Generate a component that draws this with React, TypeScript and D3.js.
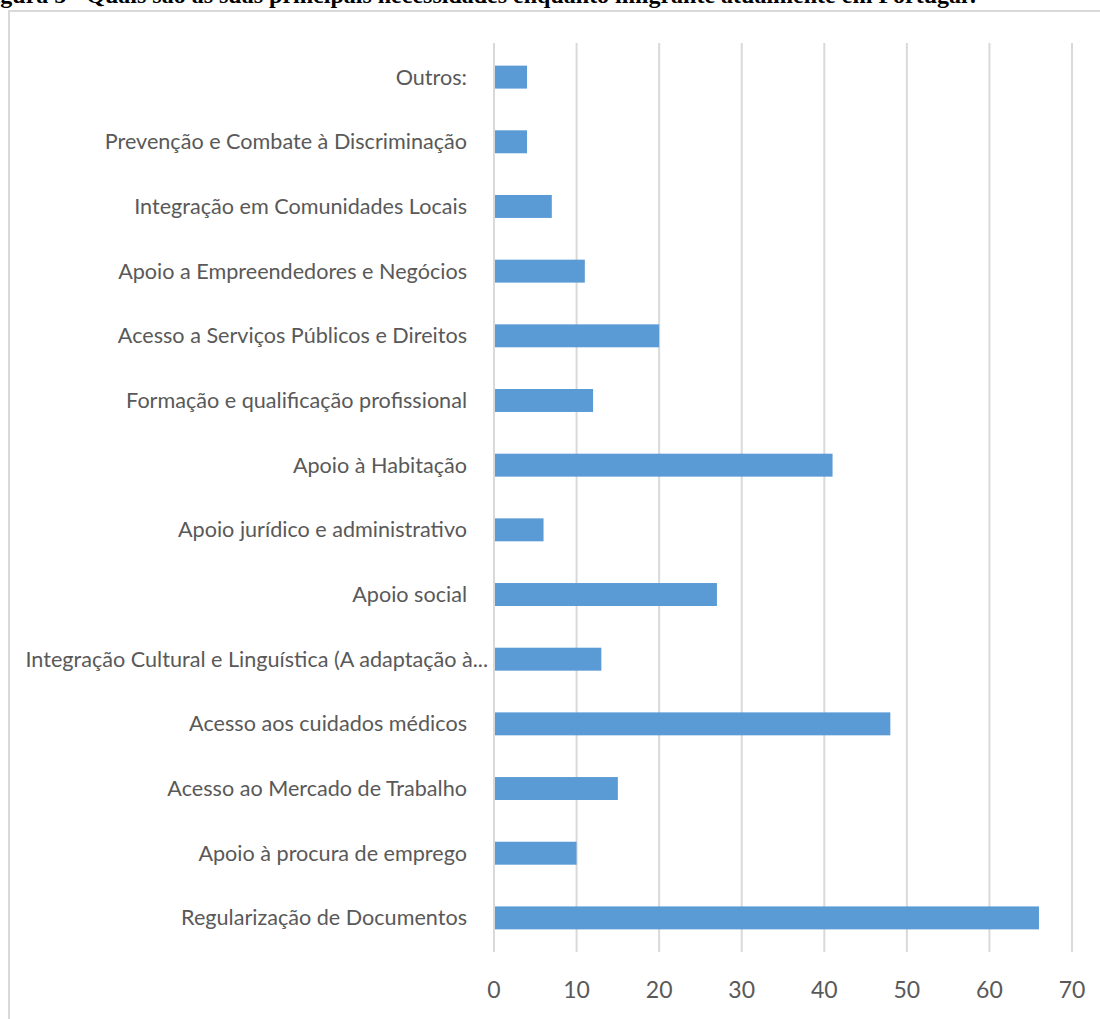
import * as d3 from 'd3';

const categories = [
  'Outros:',
  'Prevenção e Combate à Discriminação',
  'Integração em Comunidades Locais',
  'Apoio a Empreendedores e Negócios',
  'Acesso a Serviços Públicos e Direitos',
  'Formação e qualificação profissional',
  'Apoio à Habitação',
  'Apoio jurídico e administrativo',
  'Apoio social',
  'Integração Cultural e Linguística (A adaptação à...',
  'Acesso aos cuidados médicos',
  'Acesso ao Mercado de Trabalho',
  'Apoio à procura de emprego',
  'Regularização de Documentos',
];
const values = [4, 4, 7, 11, 20, 12, 41, 6, 27, 13, 48, 15, 10, 66];
const xTicks = [0, 10, 20, 30, 40, 50, 60, 70];

const WIDTH = 1100;
const HEIGHT = 1019;
const PLOT = { left: 494, right: 1072, top: 43, bottom: 952 };
const BAR_COLOR = '#5B9BD5';
const GRID = '#d9d9d9';
const TEXT = '#595959';
const LABEL_FONT = "Lato, 'Open Sans', sans-serif";

export default function App() {
  const x = d3.scaleLinear().domain([0, 70]).range([PLOT.left, PLOT.right]);
  const y = d3
    .scaleBand<string>()
    .domain(categories)
    .range([PLOT.top, PLOT.bottom])
    .paddingInner(0.645)
    .paddingOuter(0.35);

  return (
    <>
      <style>{`body{margin:0}`}</style>
      <svg width={WIDTH} height={HEIGHT} style={{ display: 'block', background: '#fff' }}>
        {/* title of the source document, cut off at the top like in the scan */}
        <text
          x={-21}
          y={3}
          fontFamily="'Liberation Serif', 'Times New Roman', serif"
          fontWeight={700}
          fontSize={24}
          fill="#000"
        >
          Figura 5 - Quais são as suas principais necessidades enquanto imigrante atualmente em Portugal?
        </text>

        {/* chart frame */}
        <rect x={9} y={11} width={WIDTH + 20} height={HEIGHT + 20} fill="#fff" stroke={GRID} strokeWidth={2} />

        {/* gridlines */}
        {xTicks.map((t) => (
          <line
            key={t}
            x1={x(t)}
            x2={x(t)}
            y1={PLOT.top}
            y2={PLOT.bottom}
            stroke={GRID}
            strokeWidth={2}
          />
        ))}

        {/* bars */}
        {categories.map((c, i) => (
          <rect
            key={c}
            x={x(0) + 1}
            y={y(c)}
            width={x(values[i]) - x(0) - 1}
            height={y.bandwidth()}
            fill={BAR_COLOR}
          />
        ))}

        {/* category labels */}
        {categories.map((c) => (
          <text
            key={c}
            x={c.endsWith('...') ? x(0) - 6 : x(0) - 27}
            y={(y(c) ?? 0) + y.bandwidth() / 2}
            dy="0.35em"
            textAnchor="end"
            fontFamily={LABEL_FONT}
            fontSize={21.6}
            fill={TEXT}
          >
            {c}
          </text>
        ))}

        {/* x tick labels */}
        {xTicks.map((t) => (
          <text
            key={t}
            x={x(t)}
            y={990}
            dy="0.35em"
            textAnchor="middle"
            fontFamily={LABEL_FONT}
            fontSize={23}
            fill={TEXT}
          >
            {t}
          </text>
        ))}
      </svg>
    </>
  );
}
